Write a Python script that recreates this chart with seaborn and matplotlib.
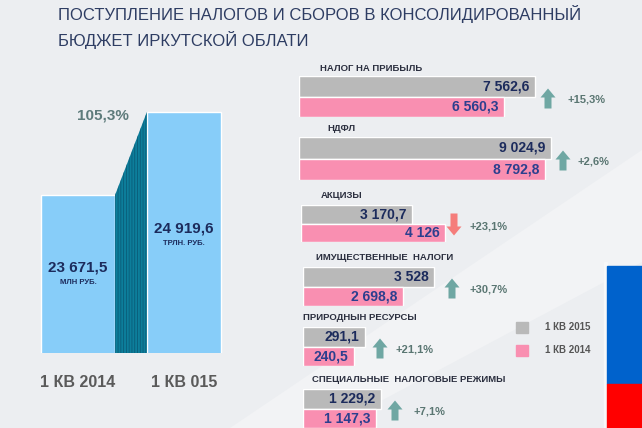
import numpy as np
import pandas as pd
import matplotlib
matplotlib.use('Agg')
import matplotlib.pyplot as plt
import seaborn as sns
from matplotlib.patches import Rectangle, Polygon, FancyArrow

# --- data ---
periods = ['1 КВ 2014', '1 КВ 015']
totals = [23671.5, 24919.6]
total_growth = '105,3%'

groups = ['НАЛОГ НА ПРИБЫЛЬ', 'НДФЛ', 'АКЦИЗЫ', 'ИМУЩЕСТВЕННЫЕ  НАЛОГИ',
          'ПРИРОДНЫН РЕСУРСЫ', 'СПЕЦИАЛЬНЫЕ  НАЛОГОВЫЕ РЕЖИМЫ']
q2015 = [7562.6, 9024.9, 3170.7, 3528.0, 291.1, 1229.2]
q2014 = [6560.3, 8792.8, 4126.0, 2698.8, 240.5, 1147.3]
growth = ['+15,3%', '+2,6%', '+23,1%', '+30,7%', '+21,1%', '+7,1%']
direction = ['up', 'up', 'down', 'up', 'up', 'up']

W, H = 642, 428
GRAY = '#b9b9b9'
PINK = '#f98fb1'
LIGHTBLUE = '#87cdf9'
NAVY = '#1c2b5c'


def fmt(v):
    s = f'{v:,.1f}'.replace(',', ' ').replace('.', ',')
    if s.endswith(',0'):
        s = s[:-2]
    return s


def box(x, y, w, h):
    return [x / W, 1 - (y + h) / H, w / W, h / H]


def pixel_axes(z):
    a = fig.add_axes([0, 0, 1, 1], zorder=z)
    a.set_xlim(0, W)
    a.set_ylim(H, 0)
    a.axis('off')
    a.patch.set_alpha(0)
    return a


sns.set_theme(style='white')
plt.rcParams['font.family'] = ['Liberation Sans', 'DejaVu Sans']
plt.rcParams['hatch.linewidth'] = 0.6

fig = plt.figure(figsize=(W / 100, H / 100), dpi=100)

# background layer and top text layer, both in pixel coordinates
bg = pixel_axes(0)
fg = pixel_axes(5)
bg.add_patch(Rectangle((0, 0), W, H, color='#eceef1', zorder=0))
bg.add_patch(Polygon([(230, 428), (642, 150), (642, 262), (330, 428)],
                     closed=True, color='#f2f3f5', lw=0, zorder=0.5))
bg.add_patch(Rectangle((604, 262), 3, 166, color='#f7f8f9', zorder=1))
bg.add_patch(Rectangle((607, 266), 35, 118, color='#0062cc', zorder=1))
bg.add_patch(Rectangle((607, 384), 35, 44, color='#ff0000', zorder=1))

fg.text(58, 27, 'ПОСТУПЛЕНИЕ НАЛОГОВ И СБОРОВ В КОНСОЛИДИРОВАННЫЙ\nБЮДЖЕТ ИРКУТСКОЙ ОБЛАТИ',
        fontsize=12, color='#2e3d63', va='center', ha='left', linespacing=1.5)

# --- left chart: totals ---
axl = fig.add_axes(box(25, 100, 212, 253), zorder=2)
axl.patch.set_alpha(0)
df_tot = pd.DataFrame({'period': periods, 'value': totals})
sns.barplot(data=df_tot, x='period', y='value', color=LIGHTBLUE, width=0.7,
            saturation=1, ax=axl)
y0 = 21294
axl.set_xlim(-0.5, 1.5)
axl.set_ylim(y0, 25100)
axl.fill_between([0.35, 0.65], [totals[0], totals[1]], y0,
                 facecolor='#0d7e9b', edgecolor='#0a5c78', hatch='||||||', lw=0)
axl.set_xlabel('')
axl.set_ylabel('')
axl.set_yticks([])
axl.tick_params(axis='x', length=0, pad=16, labelsize=11.5, labelcolor='#5a5a5a')
for lab in axl.get_xticklabels():
    lab.set_fontweight('bold')
for s in axl.spines.values():
    s.set_visible(False)

fg.text(103, 115, total_growth, fontsize=11, fontweight='bold', color='#5d7b7b',
        ha='center', va='center')
fg.text(78, 268, fmt(totals[0]), fontsize=11, fontweight='bold', color=NAVY,
        ha='center', va='center')
fg.text(78, 283, 'МЛН РУБ.', fontsize=5.5, fontweight='bold', color=NAVY,
        ha='center', va='center')
fg.text(184, 228, fmt(totals[1]), fontsize=11, fontweight='bold', color=NAVY,
        ha='center', va='center')
fg.text(184, 243, 'ТРЛН. РУБ.', fontsize=5.5, fontweight='bold', color=NAVY,
        ha='center', va='center')

# --- right panel: tax groups ---
# (left x, top y, bottom y, gray bar length px, label x, label y, arrow x, pct x)
layout = [
    (299, 76, 117, 236, 320, 68, 548, 568),
    (299, 137, 180, 252, 327, 128, 563, 578),
    (301, 205, 242, 111, 321, 195, 454, 470),
    (303, 267, 306, 131, 316, 258, 452, 470),
    (303, 327, 366, 62, 303, 318, 380, 396),
    (303, 389, 428, 78, 312, 380, 395, 413),
]
axw = 300
for i, (x0, top, bot, gpx, lx, ly, ax_x, px) in enumerate(layout):
    ax = fig.add_axes(box(x0, top, axw, bot - top), zorder=2)
    ax.patch.set_alpha(0)
    dfg = pd.DataFrame({'year': ['2015', '2014'], 'value': [q2015[i], q2014[i]]})
    sns.barplot(data=dfg, x='value', y='year', hue='year', palette=[GRAY, PINK],
                width=1.0, saturation=1, legend=False, ax=ax, orient='h')
    ax.set_xlim(0, q2015[i] * axw / gpx)
    ax.set_ylim(1.5, -0.5)
    ax.axis('off')
    for j, (v, c) in enumerate([(q2015[i], NAVY), (q2014[i], '#2c3f8e')]):
        ax.annotate(fmt(v), (v, j), xytext=(-4, 0), textcoords='offset points',
                    ha='right', va='center', fontsize=10, fontweight='bold', color=c)

    fg.text(lx, ly, groups[i], fontsize=6.8, fontweight='bold', color='#2b2f3f',
            ha='left', va='center')
    mid = (top + bot) / 2 + 2
    if direction[i] == 'up':
        fg.add_patch(FancyArrow(ax_x, mid + 10, 0, -20, width=7, head_width=15,
                                head_length=9, length_includes_head=True,
                                color='#6fa7a3', lw=0))
    else:
        fg.add_patch(FancyArrow(ax_x, mid - 12, 0, 22, width=7, head_width=15,
                                head_length=9, length_includes_head=True,
                                color='#f57d7b', lw=0))
    fg.text(px, mid + 1, growth[i], fontsize=8, fontweight='bold', color='#5a7672',
            ha='left', va='center')

# legend
fg.add_patch(Rectangle((516, 322), 12, 11, color=GRAY))
fg.add_patch(Rectangle((516, 345), 12, 11, color=PINK))
fg.text(545, 327, '1 КВ 2015', fontsize=7, fontweight='bold', color='#555555',
        ha='left', va='center')
fg.text(545, 350, '1 КВ 2014', fontsize=7, fontweight='bold', color='#555555',
        ha='left', va='center')

fig.savefig('out.png', dpi=100)
